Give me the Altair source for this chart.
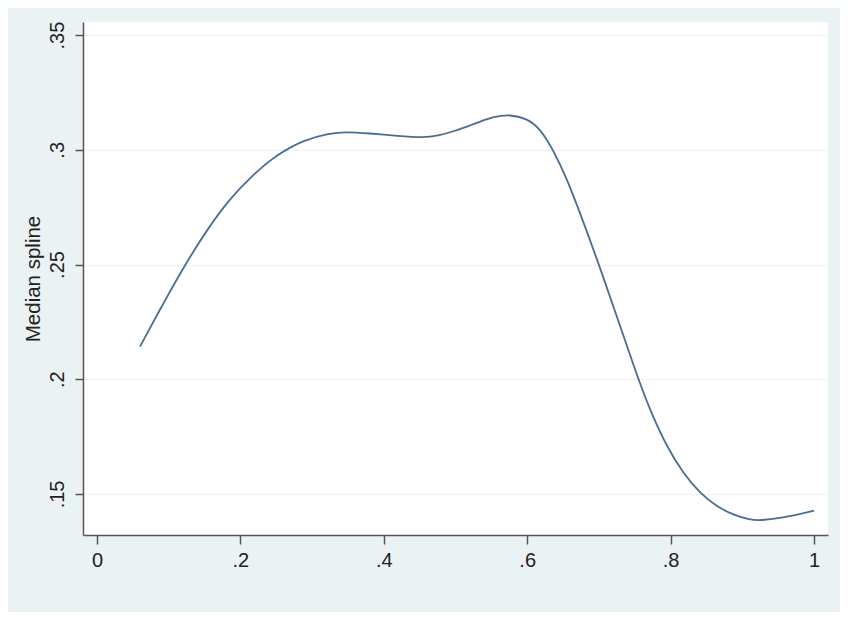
import altair as alt
import pandas as pd

x_vals = [0.060, 0.0925, 0.1227, 0.153, 0.1855, 0.218, 0.2506, 0.2877, 0.325, 0.345, 0.380, 0.420,
          0.455, 0.475, 0.500, 0.520, 0.534, 0.5527, 0.576, 0.5993, 0.6179, 0.6364, 0.6551, 0.6736,
          0.7015, 0.755, 0.7713, 0.7945, 0.8177, 0.841, 0.8643, 0.8875, 0.9108, 0.925, 0.957, 1.000]
y_vals = [0.2142, 0.2331, 0.2498, 0.2650, 0.2788, 0.2893, 0.2978, 0.3043, 0.3072, 0.3078, 0.3072, 0.3060,
          0.3053, 0.3060, 0.3083, 0.3106, 0.3122, 0.3144, 0.3154, 0.3137, 0.3093, 0.2999, 0.2875, 0.2725,
          0.2490, 0.1997, 0.1866, 0.1706, 0.1590, 0.1503, 0.1445, 0.1408, 0.1387, 0.1384, 0.1395, 0.1427]
x_ticks = [0, 0.2, 0.4, 0.6, 0.8, 1]
y_ticks = [0.15, 0.2, 0.25, 0.3, 0.35]

df = pd.DataFrame({"x": x_vals, "y": y_vals})

label_expr = "replace(format(datum.value, '~g'), '0.', '.')"
FONT = "Liberation Sans"

chart = alt.Chart(df).mark_line(
    color="#4a6d92", strokeWidth=1.8, interpolate="basis"
).encode(
    x=alt.X("x:Q",
            scale=alt.Scale(domain=[-0.0195, 1.0195], nice=False, zero=False),
            axis=alt.Axis(values=x_ticks, title=None, grid=False, labelExpr=label_expr,
                          tickSize=9, labelPadding=6, labelFontSize=20, labelFont=FONT,
                          labelColor="#222222", domainColor="#555555", tickColor="#555555",
                          domainWidth=1.5, tickWidth=1.5, labelFlush=False)),
    y=alt.Y("y:Q",
            scale=alt.Scale(domain=[0.1321, 0.3557], nice=False, zero=False),
            axis=alt.Axis(values=y_ticks, title="Median spline", grid=True, gridColor="#EAF2F3",
                          gridWidth=1.2, labelExpr=label_expr, labelAngle=-90, labelAlign="center",
                          labelBaseline="bottom", tickSize=8, labelPadding=8, labelFontSize=20,
                          labelFont=FONT, labelColor="#222222", domainColor="#555555",
                          tickColor="#555555", domainWidth=1.5, tickWidth=1.5,
                          titleFont=FONT, titleFontSize=20.5, titleFontWeight="normal",
                          titleColor="#222222", titlePadding=4, labelFlush=False)),
).properties(
    width=745, height=513,
    autosize=alt.AutoSizeParams(type="none"),
    padding={"left": 75, "top": 14, "right": 12, "bottom": 77},
    background="#EAF2F3",
).configure_view(fill="white", stroke=None)

chart.save("out.html", embed_options={"renderer": "svg", "actions": False})
